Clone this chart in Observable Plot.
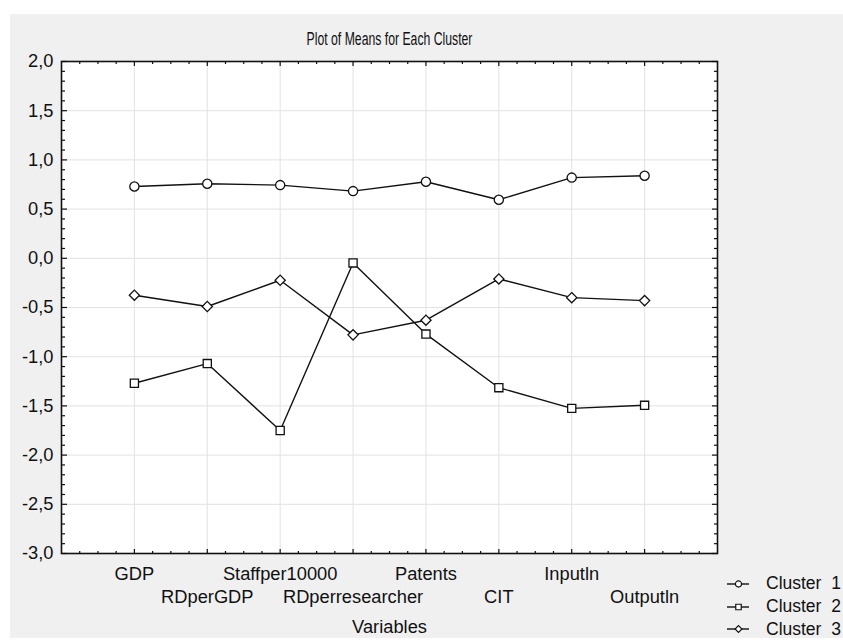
<!DOCTYPE html>
<html>
<head>
<meta charset="utf-8">
<script src="https://cdn.jsdelivr.net/npm/d3@7"></script>
<script src="https://cdn.jsdelivr.net/npm/@observablehq/plot@0.6"></script>
<style>
  html, body { margin: 0; padding: 0; background: white; }
  #wrap { position: relative; width: 843px; height: 640px; overflow: hidden; background: white; }
  #bg { position: absolute; left: 10px; top: 14px; width: 833px; height: 624px; background: #f0f0f0; }
  #chart { position: absolute; left: 0; top: 0; }
  #legend { position: absolute; left: 727px; top: 572.5px; font-family: Arial, "Liberation Sans", sans-serif; font-size: 17.5px; color: #111; }
  .item { display: flex; align-items: center; height: 22.8px; white-space: pre; }
  .item svg { margin-right: 16px; flex: none; }
</style>
</head>
<body>
<div id="wrap"><div id="bg"></div><div id="chart"></div><div id="legend"></div></div>
<script>
const title = "Plot of Means for Each Cluster";
const xTitle = "Variables";
const categories = ["GDP", "RDperGDP", "Staffper10000", "RDperresearcher", "Patents", "CIT", "Inputln", "Outputln"];
const seriesNames = ["Cluster  1", "Cluster  2", "Cluster  3"];
const cluster1 = [0.73, 0.757, 0.744, 0.683, 0.778, 0.595, 0.82, 0.839];
const cluster2 = [-1.27, -1.07, -1.75, -0.047, -0.77, -1.315, -1.525, -1.494];
const cluster3 = [-0.375, -0.49, -0.223, -0.778, -0.629, -0.21, -0.40, -0.43];
const yTicks = [2.0, 1.5, 1.0, 0.5, 0.0, -0.5, -1.0, -1.5, -2.0, -2.5, -3.0];
const symbols = ["circle", "square", "diamond2"];

const allValues = [cluster1, cluster2, cluster3];
const data = [];
allValues.forEach((vals, s) => vals.forEach((v, i) => data.push({ series: seriesNames[s], pos: i + 1, value: v })));

const fmt = d => d3.format(".1f")(d).replace(".", ",").replace("−", "-");
const catPos = categories.map((c, i) => i + 1);
const oddPos = catPos.filter((p, i) => i % 2 === 0);
const evenPos = catPos.filter((p, i) => i % 2 === 1);
const xMinor = d3.range(0, 37).map(k => k / 4).filter(v => !Number.isInteger(v));
const yMinor = d3.range(-30, 21).map(k => k / 10).filter(v => Math.abs(v * 2 - Math.round(v * 2)) > 1e-6);
const W = 843, H = 640, mL = 61, mR = 126, mT = 61, mB = 87;
const iw = W - mL - mR, ih = H - mT - mB;
const labelOf = p => categories[p - 1];
const FS = 18.3;

const tickStyle = { text: null, label: null, stroke: "#111", strokeWidth: 1.2 };

const plot = Plot.plot({
  width: W, height: H,
  marginLeft: mL, marginRight: mR, marginTop: mT, marginBottom: mB,
  style: { background: "transparent", fontFamily: "Arial, 'Liberation Sans', sans-serif", fontSize: FS + "px", color: "#111" },
  x: { type: "linear", domain: [0, 9], axis: null },
  y: { domain: [-3, 2], axis: null },
  symbol: { domain: seriesNames, range: symbols },
  marks: [
    Plot.frame({ fill: "white" }),
    Plot.gridY(yTicks, { stroke: "#e2e2e2", strokeOpacity: 1, strokeWidth: 1 }),
    Plot.gridX(catPos, { stroke: "#e2e2e2", strokeOpacity: 1, strokeWidth: 1 }),
    // inward ticks
    Plot.axisY(yMinor, { anchor: "right", tickSize: 3, dx: -iw, ...tickStyle }),
    Plot.axisY(yTicks, { anchor: "right", tickSize: 5, dx: -iw, ...tickStyle }),
    Plot.axisY(yMinor, { anchor: "left", tickSize: 3, dx: iw, ...tickStyle }),
    Plot.axisY(yTicks, { anchor: "left", tickSize: 5, dx: iw, ...tickStyle }),
    Plot.axisX(xMinor, { anchor: "top", tickSize: 3, dy: ih, ...tickStyle }),
    Plot.axisX(catPos, { anchor: "top", tickSize: 5, dy: ih, ...tickStyle }),
    Plot.axisX(xMinor, { anchor: "bottom", tickSize: 3, dy: -ih, ...tickStyle }),
    Plot.axisX(catPos, { anchor: "bottom", tickSize: 5, dy: -ih, ...tickStyle }),
    // labels
    Plot.axisY(yTicks, { anchor: "left", tickSize: 0, tickPadding: 8, tickFormat: fmt, label: null, fontSize: FS }),
    Plot.axisX(oddPos, { anchor: "bottom", tickSize: 0, tickPadding: 13.5, tickFormat: labelOf, label: null, fontSize: FS }),
    Plot.axisX(evenPos, { anchor: "bottom", tickSize: 0, tickPadding: 36.5, tickFormat: labelOf, label: null, fontSize: FS }),
    Plot.text([xTitle], { text: d => d, frameAnchor: "bottom", dy: 79, fontSize: FS }),
    Plot.text([title], { text: d => d, frameAnchor: "top", dy: -30, fontSize: 18.5, fill: "#111" }),
    Plot.frame({ stroke: "#111", strokeWidth: 1.6 }),
    // data
    Plot.line(data, { x: "pos", y: "value", z: "series", stroke: "#111", strokeWidth: 1.4 }),
    Plot.dot(data, { x: "pos", y: "value", symbol: "series", r: 4.6, stroke: "#111", strokeWidth: 1.3, fill: "white" })
  ]
});
document.getElementById("chart").appendChild(plot);

// condense the title horizontally like the reference's narrow font
d3.select(plot).selectAll("text").filter(function () { return this.textContent === title; })
  .each(function () {
    const el = d3.select(this);
    el.style("font-size", "18.5px");
    const natural = this.getComputedTextLength ? this.getComputedTextLength() : 250;
    const s = natural > 0 ? Math.min(1, 166 / natural) : 0.66;
    const t = el.attr("transform");
    if (t) {
      el.attr("transform", t + ` scale(${s},1)`);
    } else {
      const x = +el.attr("x") || 0;
      el.attr("transform", `translate(${x},0) scale(${s},1) translate(${-x},0)`);
    }
  });

// legend
const legend = d3.select("#legend");
const d3sym = { circle: d3.symbolCircle, square: d3.symbolSquare, diamond2: d3.symbolDiamond2 };
seriesNames.forEach((name, i) => {
  const item = legend.append("div").attr("class", "item");
  const svg = item.append("svg").attr("width", 23).attr("height", 14);
  svg.append("line").attr("x1", 0).attr("x2", 22).attr("y1", 7).attr("y2", 7).attr("stroke", "#111").attr("stroke-width", 1.4);
  svg.append("path").attr("transform", "translate(11.5,7)").attr("d", d3.symbol(d3sym[symbols[i]], 30)()).attr("fill", "white").attr("stroke", "#111").attr("stroke-width", 1.2);
  item.append("span").text(name);
});
</script>
</body>
</html>
